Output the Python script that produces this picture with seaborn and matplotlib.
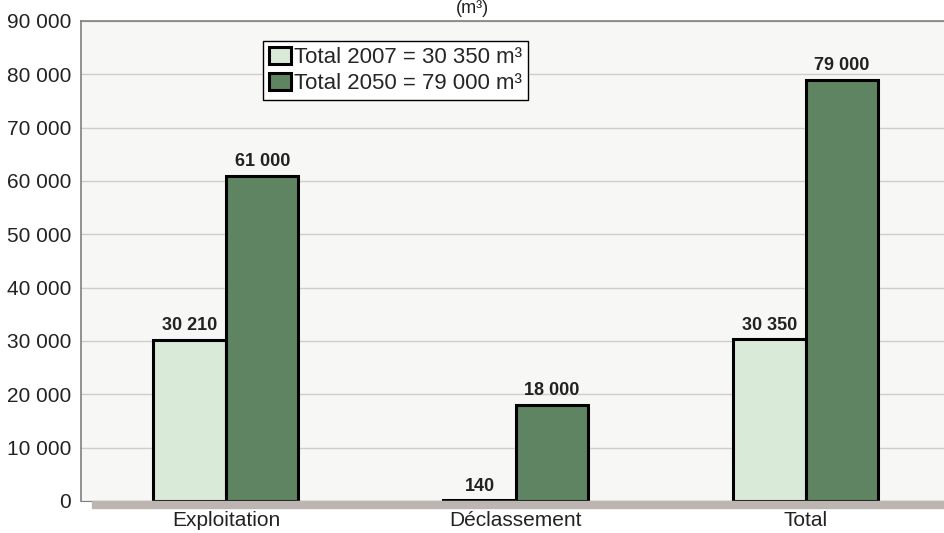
import pandas as pd
import matplotlib.pyplot as plt
import seaborn as sns
from matplotlib.patches import Rectangle
from matplotlib.ticker import FuncFormatter

# data
categories = ['Exploitation', 'Déclassement', 'Total']
values_2007 = [30210, 140, 30350]
values_2050 = [61000, 18000, 79000]
series = ['Total 2007 = 30 350 m³', 'Total 2050 = 79 000 m³']
bar_labels_2007 = ['30 210', '140', '30 350']
bar_labels_2050 = ['61 000', '18 000', '79 000']

df = pd.DataFrame({
    'Catégorie': categories * 2,
    'Volume': values_2007 + values_2050,
    'Série': [series[0]] * 3 + [series[1]] * 3,
})

sns.set_style('white')
plt.rcParams['font.family'] = ['Liberation Sans', 'DejaVu Sans']

fig = plt.figure(figsize=(9.45, 5.33), dpi=100)
ax = fig.add_axes([81 / 945, 1 - 501 / 533, 1 - 81 / 945, (501 - 21) / 533])
ax.set_facecolor('#f7f7f5')

# shadow strip below the plot
fig.patches.append(Rectangle((92 / 945, 1 - 508 / 533), 1, 7 / 533,
                             transform=fig.transFigure, color='#bdb5b1', zorder=0))

sns.barplot(data=df, x='Catégorie', y='Volume', hue='Série',
            palette=['#d9ead9', '#5e8462'], width=0.5, ax=ax,
            edgecolor='black', linewidth=2.2, saturation=1)

for cont, labs in zip(ax.containers, [bar_labels_2007, bar_labels_2050]):
    ax.bar_label(cont, labels=labs, padding=4, fontsize=13, fontweight='bold', color='#222222')

ax.set_xlim(-0.5, 2.48)
ax.set_ylim(0, 90000)
ax.set_yticks(range(0, 90001, 10000))
ax.yaxis.set_major_formatter(FuncFormatter(lambda v, p: f'{int(v):,}'.replace(',', ' ')))
ax.grid(axis='y', color='#d2cccc', linewidth=1)
ax.set_axisbelow(True)
ax.tick_params(axis='y', labelsize=15, pad=7, length=0, labelcolor='#222222')
ax.tick_params(axis='x', labelsize=15, pad=7, length=0, labelcolor='#222222')
ax.set_xlabel('')
ax.set_ylabel('')

for s in ['left', 'top']:
    ax.spines[s].set_color('#808080')
    ax.spines[s].set_linewidth(1.2)
ax.spines['right'].set_visible(False)
ax.spines['bottom'].set_color('#808080')

leg = ax.legend(loc='upper left', bbox_to_anchor=(182 / 864, 1 - 20 / 480), fontsize=16,
                frameon=True, fancybox=False, edgecolor='black', handlelength=1.0,
                handleheight=0.85, handletextpad=0.15, borderpad=0.25, labelspacing=0.2,
                borderaxespad=0)
leg.get_frame().set_linewidth(1)
leg.get_frame().set_facecolor('white')
leg.get_frame().set_alpha(1)

fig.text(472 / 945, 1.0, '(m³)', ha='center', va='top', fontsize=13, color='#222222')

fig.savefig('out.png', dpi=100)
